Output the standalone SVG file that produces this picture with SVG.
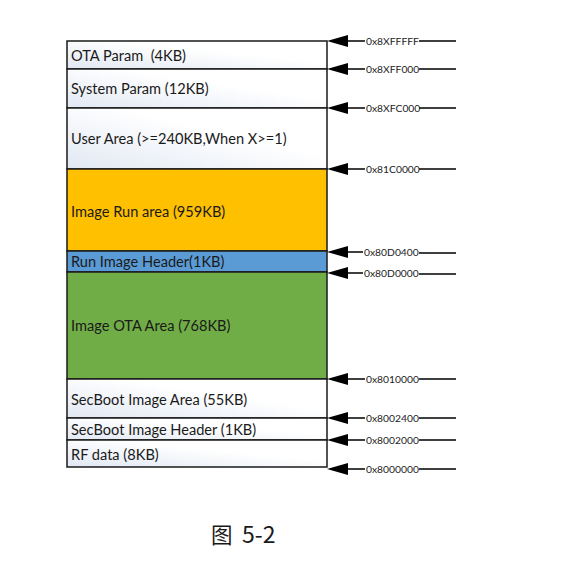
<svg xmlns="http://www.w3.org/2000/svg" width="575" height="563" viewBox="0 0 575 563">
<style>
.box{stroke:#1a1a1a;stroke-width:1.5}
.w{fill:url(#g)}
.lbl{font-family:Lato,"Liberation Sans",sans-serif;font-size:14.6px;fill:#1a1a1a}
.addr{font-family:Lato,"Liberation Sans",sans-serif;font-size:10.3px;fill:#1a1a1a}
.con{stroke:#000;stroke-width:1.6;fill:none;marker-end:url(#ah)}
.cap{font-family:"Noto Sans CJK SC","Noto Sans",sans-serif;font-size:21.5px;fill:#1a1a1a}
</style>
<defs>
<linearGradient id="g" x1="0" y1="1" x2="1" y2="0">
<stop offset="0" stop-color="#e1e8f3"/>
<stop offset="0.6" stop-color="#ffffff"/>
</linearGradient>
<marker id="ah" markerUnits="userSpaceOnUse" markerWidth="21" markerHeight="12" refX="0" refY="6" orient="auto" viewBox="0 0 21 12">
<polygon points="0,0 21,6 0,12" fill="#000"/>
</marker>
</defs>
<rect width="575" height="563" fill="#fff"/>
<g id="ota-param"><rect class="box w" x="67" y="41" width="260" height="28"/><text class="lbl" x="71" y="61" xml:space="preserve">OTA Param  (4KB)</text></g>
<g id="system-param"><rect class="box w" x="67" y="69" width="260" height="39"/><text class="lbl" x="71" y="94">System Param (12KB)</text></g>
<g id="user-area"><rect class="box w" x="67" y="108" width="260" height="61"/><text class="lbl" x="71" y="144">User Area (&gt;=240KB,When X&gt;=1)</text></g>
<g id="image-run"><rect class="box" fill="#ffc000" x="67" y="169" width="260" height="82"/><text class="lbl" x="71" y="217">Image Run area (959KB)</text></g>
<g id="run-header"><rect class="box" fill="#5b9bd5" x="67" y="251" width="260" height="21"/><text class="lbl" x="71" y="267">Run Image Header(1KB)</text></g>
<g id="image-ota"><rect class="box" fill="#70ad47" x="67" y="272" width="260" height="107"/><text class="lbl" x="71" y="331">Image OTA Area (768KB)</text></g>
<g id="secboot-area"><rect class="box w" x="67" y="379" width="260" height="39"/><text class="lbl" x="71" y="405">SecBoot Image Area (55KB)</text></g>
<g id="secboot-header"><rect class="box w" x="67" y="418" width="260" height="22"/><text class="lbl" x="71" y="435">SecBoot Image Header (1KB)</text></g>
<g id="rf-data"><rect class="box w" x="67" y="440" width="260" height="27"/><text class="lbl" x="71" y="460">RF data (8KB)</text></g>
<g id="connectors">
<path class="con" d="M456,41H419M365,41H348"/>
<path class="con" d="M456,69H419M365,69H348"/>
<path class="con" d="M456,108H419M365,108H348"/>
<path class="con" d="M456,169H419M365,169H348"/>
<path class="con" d="M456,253H419M363,252H348"/>
<path class="con" d="M456,274H419M363,273H348"/>
<path class="con" d="M456,379H419M365,379H348"/>
<path class="con" d="M456,418H419M365,418H348"/>
<path class="con" d="M456,440H419M365,440H348"/>
<path class="con" d="M456,469H419M365,469H348"/>
<text class="addr" x="366" y="45">0x8XFFFFF</text>
<text class="addr" x="366" y="73">0x8XFF000</text>
<text class="addr" x="366" y="112">0x8XFC000</text>
<text class="addr" x="366" y="173">0x81C0000</text>
<text class="addr" x="364" y="256">0x80D0400</text>
<text class="addr" x="364" y="277">0x80D0000</text>
<text class="addr" x="366" y="383">0x8010000</text>
<text class="addr" x="366" y="422">0x8002400</text>
<text class="addr" x="366" y="444">0x8002000</text>
<text class="addr" x="366" y="473">0x8000000</text>
</g>
<text class="cap" x="211" y="543">图<tspan x="242" font-size="23px">5-2</tspan></text>
</svg>
